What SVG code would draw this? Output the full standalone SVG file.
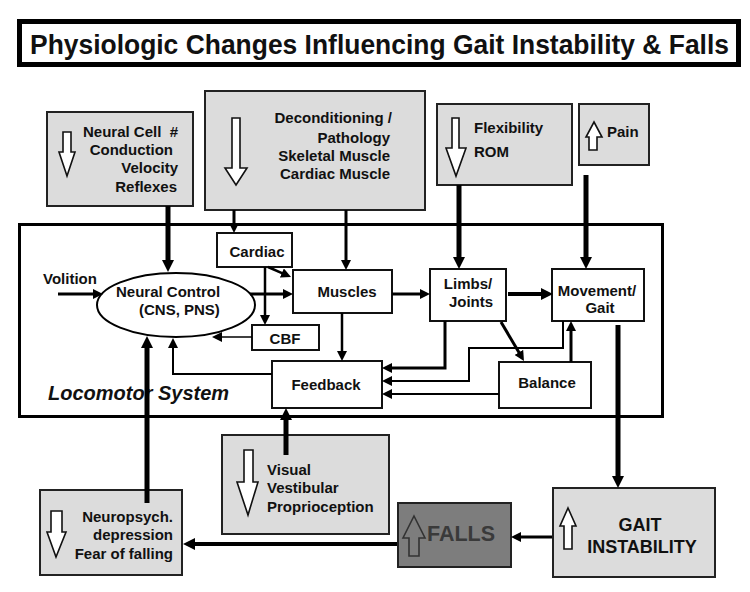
<svg xmlns="http://www.w3.org/2000/svg" width="750" height="592" viewBox="0 0 750 592">
<style>
text{font-family:"Liberation Sans",Arial,sans-serif;font-weight:bold;font-size:15px;fill:#111}
.gb{fill:#dcdcdc;stroke:#222;stroke-width:2}
.wb{fill:#fff;stroke:#111;stroke-width:2}
.ic{fill:#fff;stroke:#111;stroke-width:1.6;stroke-linejoin:miter}
.c{fill:none;stroke:#000}
.e{text-anchor:end}
.m{text-anchor:middle}
</style>
<defs>
<marker id="L" viewBox="0 0 12 12" refX="2" refY="6" markerWidth="12" markerHeight="12" markerUnits="userSpaceOnUse" orient="auto"><path d="M0,0 L12,6 L0,12 Z" fill="#000"/></marker>
<marker id="M" viewBox="0 0 10 10" refX="2" refY="5" markerWidth="10" markerHeight="10" markerUnits="userSpaceOnUse" orient="auto"><path d="M0,0 L10,5 L0,10 Z" fill="#000"/></marker>
</defs>
<rect width="750" height="592" fill="#fff"/>

<g id="title">
<rect x="19.5" y="21.5" width="719" height="43" fill="#fff" stroke="#000" stroke-width="5"/>
<text x="30" y="54" textLength="699" lengthAdjust="spacingAndGlyphs" style="font-size:27px">Physiologic Changes Influencing Gait Instability &amp; Falls</text>
</g>

<g id="locomotor-system">
<rect x="19.5" y="224.5" width="643" height="192" fill="none" stroke="#000" stroke-width="3"/>
<text x="48" y="400" style="font-size:20px;font-style:italic">Locomotor System</text>
</g>

<g id="neural-cell">
<rect class="gb" x="47" y="112" width="146" height="94"/>
<path class="ic" d="M63,132 H71 V152 H75 L67,176 L59,152 H63 Z"/>
<text class="e" x="178" y="137" xml:space="preserve" style="white-space:pre">Neural Cell  #</text>
<text class="e" x="173" y="155">Conduction</text>
<text class="e" x="178" y="173">Velocity</text>
<text class="e" x="177" y="192">Reflexes</text>
</g>

<g id="deconditioning">
<rect class="gb" x="205" y="91" width="220" height="119"/>
<path class="ic" d="M232,118 H240 V168 H247 L236,185 L225,168 H232 Z"/>
<text class="e" x="392" y="123">Deconditioning /</text>
<text class="e" x="390" y="143">Pathology</text>
<text class="e" x="390" y="161">Skeletal Muscle</text>
<text class="e" x="390" y="179">Cardiac Muscle</text>
</g>

<g id="flexibility">
<rect class="gb" x="437" y="104" width="135" height="81"/>
<path class="ic" d="M452,118 H459 V148 H466 L456,176 L446,148 H452 Z"/>
<text x="474" y="133">Flexibility</text>
<text x="474" y="157">ROM</text>
</g>

<g id="pain">
<rect class="gb" x="579" y="104" width="70" height="61"/>
<path class="ic" d="M594,122 L602,137 H597 V150 H589 V137 H586 Z"/>
<text x="607" y="137">Pain</text>
</g>

<g id="volition">
<text x="43" y="284">Volition</text>
</g>

<g id="neural-control">
<ellipse cx="176" cy="305" rx="79" ry="32" fill="#fff" stroke="#000" stroke-width="2"/>
<text x="116" y="297">Neural Control</text>
<text x="139" y="315">(CNS, PNS)</text>
</g>

<g id="cardiac">
<rect class="wb" x="217" y="233" width="75" height="34"/>
<text class="m" x="257" y="257">Cardiac</text>
</g>

<g id="muscles">
<rect class="wb" x="293" y="270" width="99" height="43"/>
<text class="m" x="347" y="297">Muscles</text>
</g>

<g id="cbf">
<rect class="wb" x="252" y="325" width="67" height="25"/>
<text class="m" x="285" y="344">CBF</text>
</g>

<g id="feedback">
<rect class="wb" x="272" y="361" width="110" height="47"/>
<text class="m" x="326" y="390">Feedback</text>
</g>

<g id="limbs-joints">
<rect class="wb" x="430" y="269" width="76" height="52"/>
<text class="m" x="468" y="289">Limbs/</text>
<text class="m" x="471" y="307">Joints</text>
</g>

<g id="movement-gait">
<rect class="wb" x="552" y="269" width="92" height="52"/>
<text class="m" x="597" y="296">Movement/</text>
<text class="m" x="600" y="313">Gait</text>
</g>

<g id="balance">
<rect class="wb" x="499" y="362" width="92" height="46"/>
<text class="m" x="547" y="388">Balance</text>
</g>

<g id="visual">
<rect class="gb" x="222" y="435" width="167" height="99"/>
<path class="ic" d="M244,450 H253 V482 H258 L248,515 L237,482 H244 Z"/>
<text x="267" y="475">Visual</text>
<text x="267" y="493">Vestibular</text>
<text x="267" y="512">Proprioception</text>
</g>

<g id="neuropsych">
<rect class="gb" x="40" y="490" width="142" height="85"/>
<path class="ic" d="M51,511 H62 V532 H66 L56,557 L47,532 H51 Z"/>
<text class="e" x="173" y="522">Neuropsych.</text>
<text class="e" x="173" y="540">depression</text>
<text class="e" x="173" y="559">Fear of falling</text>
</g>

<g id="falls">
<rect x="398" y="503" width="113" height="64" fill="#7d7d7d" stroke="#222" stroke-width="2"/>
<path d="M414,516 L425,538 H419 V556 H409 V538 H403 Z" fill="none" stroke="#333" stroke-width="1.6"/>
<text x="427" y="541" style="font-size:21.5px;fill:#3a3a3a">FALLS</text>
</g>

<g id="gait-instability">
<rect class="gb" x="553" y="488" width="162" height="89"/>
<path class="ic" d="M568,508 L576,526 H572 V549 H564 V526 H560 Z"/>
<text class="m" x="640" y="531" style="font-size:18px">GAIT</text>
<text class="m" x="642" y="553" style="font-size:18px">INSTABILITY</text>
</g>

<g id="connectors">
<line class="c" x1="168" y1="206" x2="168" y2="262" stroke-width="5" marker-end="url(#L)"/>
<line class="c" x1="459" y1="185" x2="459" y2="259" stroke-width="5" marker-end="url(#L)"/>
<line class="c" x1="586" y1="175" x2="586" y2="259" stroke-width="5" marker-end="url(#L)"/>
<line class="c" x1="618" y1="325" x2="618" y2="478" stroke-width="5" marker-end="url(#L)"/>
<line class="c" x1="286" y1="455" x2="286" y2="418" stroke-width="5" marker-end="url(#L)"/>
<line class="c" x1="147" y1="503" x2="147" y2="346" stroke-width="5" marker-end="url(#L)"/>
<line class="c" x1="397" y1="544" x2="193" y2="544" stroke-width="4" marker-end="url(#L)"/>
<line class="c" x1="508" y1="294" x2="543" y2="294" stroke-width="4" marker-end="url(#L)"/>

<line class="c" x1="234" y1="210" x2="234" y2="225" stroke-width="3" marker-end="url(#M)"/>
<line class="c" x1="346" y1="210" x2="346" y2="262" stroke-width="3" marker-end="url(#M)"/>
<line class="c" x1="58" y1="294" x2="95" y2="294" stroke-width="3" marker-end="url(#M)"/>
<line class="c" x1="250" y1="294" x2="285" y2="294" stroke-width="3" marker-end="url(#M)"/>
<line class="c" x1="392" y1="294" x2="422" y2="294" stroke-width="3" marker-end="url(#M)"/>
<line class="c" x1="552" y1="537" x2="519" y2="537" stroke-width="3" marker-end="url(#M)"/>
<line class="c" x1="342" y1="313" x2="342" y2="353" stroke-width="2.5" marker-end="url(#M)"/>
<line class="c" x1="268" y1="267" x2="283.7" y2="273.8" stroke-width="2.5" marker-end="url(#M)"/>
<line class="c" x1="265" y1="267" x2="265" y2="317" stroke-width="2.5" marker-end="url(#M)"/>
<line class="c" x1="501" y1="322" x2="519.9" y2="354.1" stroke-width="3" marker-end="url(#M)"/>
<line class="c" x1="571" y1="362" x2="571" y2="329" stroke-width="3" marker-end="url(#M)"/>
<polyline class="c" points="272,374 173,374 173,346" stroke-width="2" marker-end="url(#M)"/>
<polyline class="c" points="445,321 445,368 390,368" stroke-width="3" marker-end="url(#M)"/>
<polyline class="c" points="563,321 563,348 469,348 469,381 390,381" stroke-width="2" marker-end="url(#M)"/>
<line class="c" x1="499" y1="394" x2="390" y2="394" stroke-width="2" marker-end="url(#M)"/>
<line class="c" x1="252" y1="337" x2="220" y2="337" stroke-width="1.5" marker-end="url(#M)"/>
</g>
</svg>
